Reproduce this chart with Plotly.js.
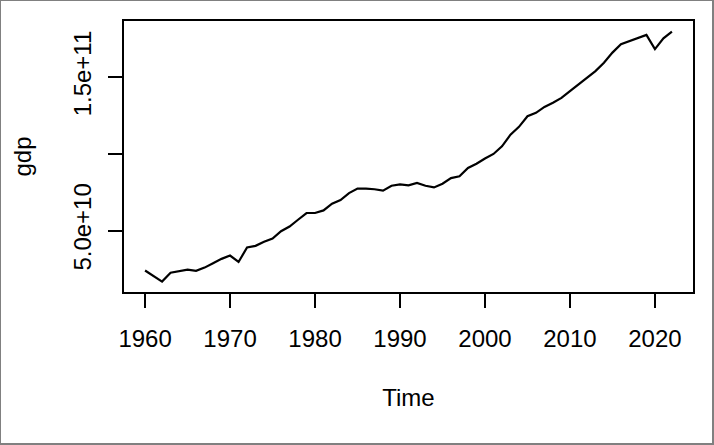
<!DOCTYPE html>
<html>
<head>
<meta charset="utf-8">
<script src="https://cdn.plot.ly/plotly-3.0.1.min.js"></script>
<style>
  html, body { margin: 0; padding: 0; background: #fff; }
  #wrap { position: relative; width: 714px; height: 445px; }
  #chart { width: 714px; height: 445px; }
  #frame { position: absolute; left: 0; top: 0; width: 714px; height: 445px; box-sizing: border-box;
           border-left: 1px solid #808080; border-top: 1px solid #808080;
           border-right: 2px solid #808080; border-bottom: 2px solid #808080; pointer-events: none; }
</style>
</head>
<body>
<div id="wrap"><div id="chart"></div><div id="frame"></div></div>
<script>
const years = [];
for (let y = 1960; y <= 2022; y++) years.push(y);
const gdpBillions = [
  23.9, 20.4, 16.7, 22.5, 23.5, 24.5, 23.7, 25.8, 28.7, 31.5,
  33.7, 29.5, 38.9, 40.0, 42.6, 44.8, 49.5, 52.6, 57.0, 61.4,
  61.4, 63.1, 67.5, 69.9, 74.4, 77.3, 77.3, 76.9, 76.0, 79.2,
  80.1, 79.4, 81.0, 79.2, 78.1, 80.5, 84.2, 85.3, 90.8, 93.5,
  96.9, 99.9, 104.9, 112.5, 117.6, 124.5, 126.7, 130.6, 133.3, 136.5,
  140.9, 145.2, 149.6, 153.9, 159.4, 166.0, 171.4, 173.5, 175.3, 177.5,
  168.3, 175.3, 179.7
];
const gdp = gdpBillions.map(v => v * 1e9);
const yTickVals = [5e10, 1e11, 1.5e11];
const yTickText = ["5.0e+10", "", "1.5e+11"];
const xTickVals = [1960, 1970, 1980, 1990, 2000, 2010, 2020];

const font = { family: "Liberation Sans, Arial, sans-serif", size: 24, color: "#000" };

Plotly.newPlot("chart", [{
  x: years, y: gdp, type: "scatter", mode: "lines",
  line: { color: "#000", width: 2.2 }, hoverinfo: "skip"
}], {
  width: 714, height: 445,
  margin: { l: 124, r: 21, t: 21, b: 153 },
  paper_bgcolor: "#fff", plot_bgcolor: "#fff",
  showlegend: false,
  font: font,
  xaxis: {
    range: [1957.52, 2024.48], tickvals: xTickVals, ticktext: xTickVals.map(String),
    showgrid: false, zeroline: false, showline: true, mirror: true,
    linecolor: "#000", linewidth: 2, ticks: "outside", ticklen: 14, tickwidth: 2, tickcolor: "#000",
    ticklabelstandoff: 10, tickfont: font,
    title: { text: "Time", font: font, standoff: 38 }
  },
  yaxis: {
    range: [9.9e9, 186.6e9], tickvals: yTickVals, ticktext: yTickText, tickangle: -90,
    showgrid: false, zeroline: false, showline: true, mirror: true,
    linecolor: "#000", linewidth: 2, ticks: "outside", ticklen: 14, tickwidth: 2, tickcolor: "#000",
    ticklabelstandoff: 7, tickfont: font,
    title: { text: "gdp", font: font, standoff: 31 }
  }
}, { staticPlot: true, displayModeBar: false });
</script>
</body>
</html>
